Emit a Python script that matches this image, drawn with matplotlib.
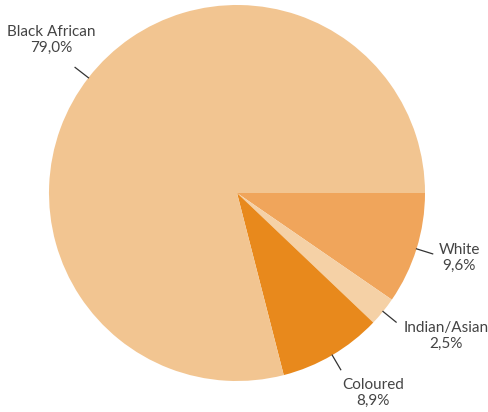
import numpy as np
import matplotlib
matplotlib.use("Agg")
import matplotlib.pyplot as plt

categories = ["White", "Indian/Asian", "Coloured", "Black African"]
values = [9.6, 2.5, 8.9, 79.0]
value_labels = ["9,6%", "2,5%", "8,9%", "79,0%"]
colors = ["#F0A55B", "#F5D1A6", "#E8891C", "#F2C591"]

W, H = 489, 412
fig = plt.figure(figsize=(W / 100, H / 100), dpi=100)
ax = fig.add_axes([0, 0, 1, 1])

cx, cy, R = 237, 193, 188
wedges, _ = ax.pie(values, colors=colors, startangle=0, counterclock=True,
                   center=(cx, cy), radius=R, frame=True,
                   wedgeprops=dict(linewidth=0))
ax.set_xlim(0, W)
ax.set_ylim(H, 0)
ax.set_aspect("equal")
ax.axis("off")

# text positions (layout)
text_pos = {
    "White": (459, 258),
    "Indian/Asian": (446, 336),
    "Coloured": (373, 393),
    "Black African": (51, 40),
}
for w, cat, vl in zip(wedges, categories, value_labels):
    ang = np.deg2rad((w.theta1 + w.theta2) / 2)
    dx, dy = np.cos(ang), np.sin(ang)
    x0, y0 = cx + R * 1.0 * dx, cy + R * 1.0 * dy
    x1, y1 = cx + R * 1.09 * dx, cy + R * 1.09 * dy
    ax.plot([x0, x1], [y0, y1], color="#333333", lw=0.9)
    tx, ty = text_pos[cat]
    ax.text(tx, ty, f"{cat}\n{vl}", ha="center", va="center",
            fontsize=11, color="#444444", family="Lato",
            linespacing=1.2)

fig.savefig("out.png", dpi=100)
